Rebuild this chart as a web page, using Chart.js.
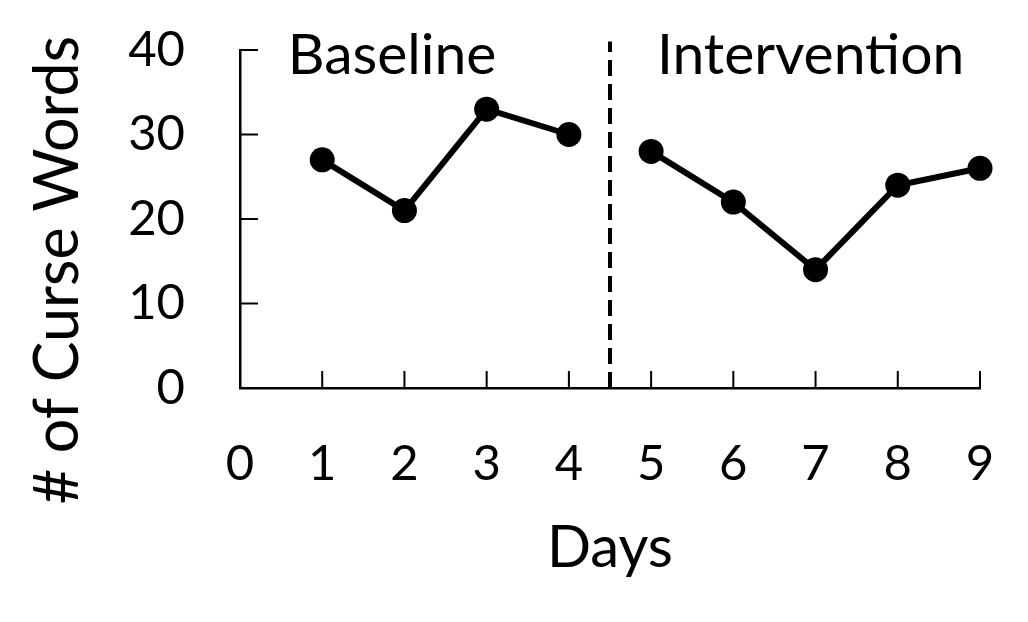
<!DOCTYPE html>
<html>
<head>
<meta charset="utf-8">
<script src="https://cdn.jsdelivr.net/npm/chart.js@4/dist/chart.umd.min.js"></script>
<style>
  html, body { margin: 0; padding: 0; background: #fff; }
  #wrap { width: 1028px; height: 622px; }
</style>
</head>
<body>
<div id="wrap"><canvas id="chart" width="1028" height="622"></canvas></div>
<script>
// values
var baselineDays = [1, 2, 3, 4];
var baselineCounts = [27, 21, 33, 30];
var interventionDays = [5, 6, 7, 8, 9];
var interventionCounts = [28, 22, 14, 24, 26];
var phaseChangeDay = 4.5;
var yTicks = [0, 10, 20, 30, 40];
var xTicks = [0, 1, 2, 3, 4, 5, 6, 7, 8, 9];

var FONT = "Lato, 'Open Sans', sans-serif";

function toPoints(xs, ys) {
    return xs.map(function (x, i) { return { x: x, y: ys[i] }; });
}

// short tick marks drawn inward + phase labels + rotated y title
var extras = {
    id: 'extras',
    afterDraw: function (chart) {
        var ctx = chart.ctx;
        var xs = chart.scales.x, ys = chart.scales.y;
        ctx.save();
        ctx.strokeStyle = '#000';
        ctx.lineWidth = 2;
        xTicks.slice(1).forEach(function (v) {
            var px = xs.getPixelForValue(v);
            ctx.beginPath();
            ctx.moveTo(px, ys.bottom);
            ctx.lineTo(px, ys.bottom - 17);
            ctx.stroke();
        });
        yTicks.slice(1).forEach(function (v) {
            var py = ys.getPixelForValue(v);
            ctx.beginPath();
            ctx.moveTo(xs.left, py);
            ctx.lineTo(xs.left + 18, py);
            ctx.stroke();
        });

        ctx.fillStyle = '#000';
        ctx.font = '57px ' + FONT;
        ctx.textAlign = 'center';
        ctx.textBaseline = 'middle';
        ctx.fillText('Baseline', xs.getPixelForValue(1.85), ys.top + 6);
        ctx.fillText('Intervention', xs.getPixelForValue(6.94), ys.top + 6);

        ctx.font = '61px ' + FONT;
        ctx.translate(58, 270);
        ctx.rotate(-Math.PI / 2);
        ctx.fillText('# of Curse Words', 0, 0);
        ctx.restore();
    }
};

new Chart(document.getElementById('chart'), {
    type: 'line',
    data: {
        datasets: [
            {
                label: 'Baseline',
                data: toPoints(baselineDays, baselineCounts),
                borderColor: '#000',
                backgroundColor: '#000',
                borderWidth: 6,
                pointRadius: 12.5,
                pointBorderWidth: 0
            },
            {
                label: 'Intervention',
                data: toPoints(interventionDays, interventionCounts),
                borderColor: '#000',
                backgroundColor: '#000',
                borderWidth: 6,
                pointRadius: 12.5,
                pointBorderWidth: 0
            },
            {
                label: 'Phase change',
                data: [{ x: phaseChangeDay, y: 0 }, { x: phaseChangeDay, y: 41 }],
                borderColor: '#000',
                borderWidth: 4,
                borderDash: [16, 8],
                pointRadius: 0,
                clip: false
            }
        ]
    },
    options: {
        responsive: false,
        animation: false,
        clip: false,
        layout: { padding: { top: 50, right: 48, left: 0, bottom: 0 } },
        plugins: { legend: { display: false }, tooltip: { enabled: false } },
        scales: {
            x: {
                type: 'linear',
                min: 0,
                max: 9,
                afterBuildTicks: function (s) { s.ticks = xTicks.map(function (v) { return { value: v }; }); },
                afterFit: function (s) {
                    s.height = 234;
                    s.paddingLeft = 0;
                    s.paddingRight = 0;
                },
                grid: { display: false, drawTicks: false },
                border: { display: true, color: '#000', width: 2.5 },
                ticks: { color: '#000', font: { family: FONT, size: 49 }, padding: 47 },
                title: {
                    display: true,
                    text: 'Days',
                    color: '#000',
                    font: { family: FONT, size: 58 },
                    padding: { top: 0, bottom: 39 }
                }
            },
            y: {
                min: 0,
                max: 40,
                afterBuildTicks: function (s) { s.ticks = yTicks.map(function (v) { return { value: v }; }); },
                afterFit: function (s) {
                    s.width = 240;
                    s.paddingTop = 0;
                    s.paddingBottom = 0;
                },
                grid: { display: false, drawTicks: false },
                border: { display: true, color: '#000', width: 2.5 },
                ticks: { color: '#000', font: { family: FONT, size: 49 }, padding: 55 }
            }
        }
    },
    plugins: [extras]
});
</script>
</body>
</html>
